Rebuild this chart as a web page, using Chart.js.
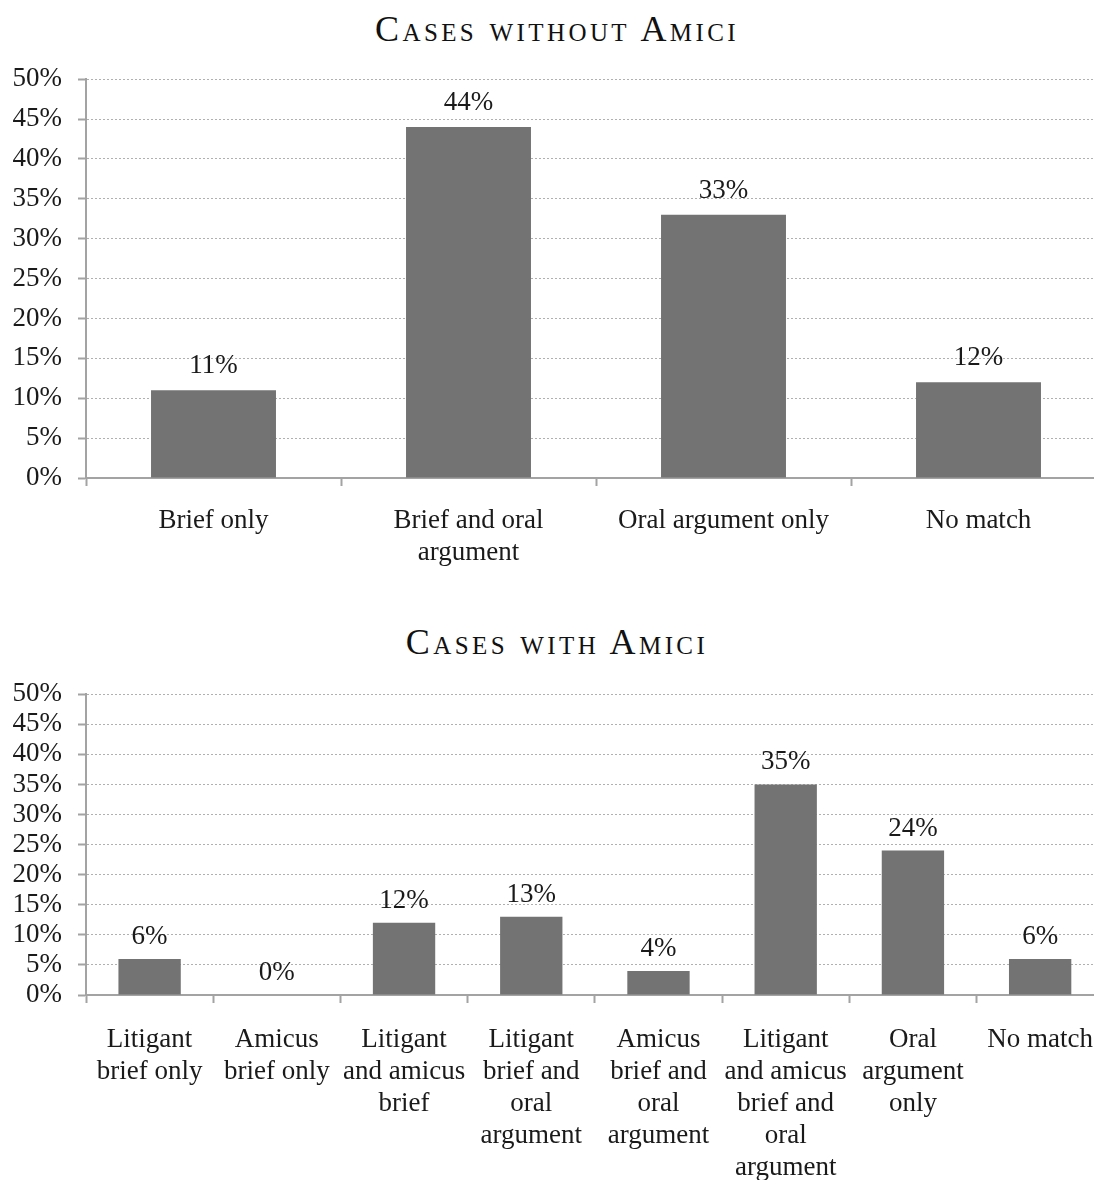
<!DOCTYPE html>
<html>
<head>
<meta charset="utf-8">
<title>Cases with and without Amici</title>
<script src="https://cdn.jsdelivr.net/npm/chart.js@4/dist/chart.umd.min.js"></script>
<style>
  html, body { margin: 0; padding: 0; background: #fff; overflow: hidden; }
  body { width: 1094px; height: 1182px; position: relative; }
  .title {
    position: absolute; left: 0; width: 1114px; text-align: center;
    font-family: "Liberation Serif", "Times New Roman", serif;
    font-variant: small-caps; font-size: 36px; letter-spacing: 3.4px;
    color: #111; line-height: 40px;
  }
  .box { position: absolute; left: 0; }
</style>
</head>
<body>
<div class="title" style="top: 9px;">Cases without Amici</div>
<div class="box" style="top: 47px;"><canvas id="chartWithout" width="1106" height="531"></canvas></div>
<div class="title" style="top: 622px;">Cases with Amici</div>
<div class="box" style="top: 662px;"><canvas id="chartWith" width="1114" height="518"></canvas></div>

<script>
  'use strict';

  // share of cases per outcome, in percent
  const categoriesWithout = [
    ['Brief only'],
    ['Brief and oral', 'argument'],
    ['Oral argument only'],
    ['No match']
  ];
  const valuesWithout = [11, 44, 33, 12];

  const categoriesWith = [
    ['Litigant', 'brief only'],
    ['Amicus', 'brief only'],
    ['Litigant', 'and amicus', 'brief'],
    ['Litigant', 'brief and', 'oral', 'argument'],
    ['Amicus', 'brief and', 'oral', 'argument'],
    ['Litigant', 'and amicus', 'brief and', 'oral', 'argument'],
    ['Oral', 'argument', 'only'],
    ['No match']
  ];
  const valuesWith = [6, 0, 12, 13, 4, 35, 24, 6];

  const yTicks = [0, 5, 10, 15, 20, 25, 30, 35, 40, 45, 50];

  const serif = '"Liberation Serif", "Times New Roman", serif';
  const fontSize = 27;
  const barColor = '#737373';
  const axisColor = '#a3a3a3';
  const gridColor = '#b0b0b0';
  const textColor = '#1a1a1a';

  // writes "n%" above each bar
  const valueLabels = {
    id: 'valueLabels',
    afterDatasetsDraw(chart, args, opts) {
      const ctx = chart.ctx;
      const meta = chart.getDatasetMeta(0);
      const values = chart.data.datasets[0].data;
      ctx.save();
      ctx.font = fontSize + 'px ' + serif;
      ctx.fillStyle = textColor;
      ctx.textAlign = 'center';
      ctx.textBaseline = 'alphabetic';
      meta.data.forEach(function (bar, i) {
        ctx.fillText(values[i] + '%', bar.x, bar.y - opts.gap);
      });
      ctx.restore();
    }
  };

  function makeChart(id, labels, values, xHeight, labelGap, xPad) {
    return new Chart(document.getElementById(id), {
      type: 'bar',
      data: {
        labels: labels,
        datasets: [{
          data: values,
          backgroundColor: barColor,
          borderWidth: 0,
          categoryPercentage: 1,
          barPercentage: 0.49
        }]
      },
      plugins: [valueLabels],
      options: {
        responsive: false,
        animation: false,
        devicePixelRatio: 1,
        layout: { padding: 0 },
        plugins: {
          legend: { display: false },
          tooltip: { enabled: false },
          valueLabels: { gap: labelGap }
        },
        scales: {
          x: {
            grid: {
              display: true,
              drawOnChartArea: false,
              drawTicks: true,
              tickLength: 8,
              tickColor: axisColor,
              tickWidth: 2,
              offset: true
            },
            border: { display: true, color: axisColor, width: 2 },
            ticks: {
              autoSkip: false,
              maxRotation: 0,
              minRotation: 0,
              padding: xPad,
              color: textColor,
              font: { family: serif, size: fontSize, lineHeight: 1.185 }
            },
            afterFit: function (scale) { scale.height = xHeight; }
          },
          y: {
            min: 0,
            max: 50,
            afterBuildTicks: function (scale) {
              scale.ticks = yTicks.map(function (v) { return { value: v }; });
            },
            grid: {
              color: gridColor,
              lineWidth: 1,
              drawTicks: true,
              tickLength: 8,
              tickColor: axisColor,
              tickWidth: 2
            },
            border: { display: true, color: axisColor, width: 2, dash: [2, 2] },
            ticks: {
              autoSkip: false,
              padding: 16,
              color: textColor,
              font: { family: serif, size: fontSize },
              callback: function (v) { return v + '%'; }
            },
            afterFit: function (scale) { scale.width = 86; }
          }
        }
      }
    });
  }

  makeChart('chartWithout', categoriesWithout, valuesWithout, 100, 17, 19);
  makeChart('chartWith', categoriesWith, valuesWith, 185, 15, 21);
</script>
</body>
</html>
